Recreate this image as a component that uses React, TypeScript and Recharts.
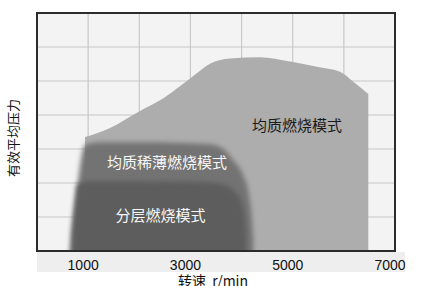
import {
  ComposedChart,
  Area,
  XAxis,
  YAxis,
  CartesianGrid,
  ReferenceArea,
  ReferenceDot,
} from "recharts";

const RPM_TICKS = [0, 1000, 2000, 3000, 4000, 5000, 6000, 7000];
const RPM_LABELS = [1000, 3000, 5000, 7000];
const BMEP_TICKS = [0, 1, 2, 3, 4, 5, 6, 7];

// 均质燃烧模式 outline
const homoRpm = [939, 1427, 2014, 2480, 2800, 3100, 3400, 3770, 4360, 4950, 5470, 5925, 6185, 6478];
const homoBmep = [3.35, 3.62, 4.12, 4.5, 4.85, 5.2, 5.52, 5.66, 5.7, 5.57, 5.42, 5.27, 4.98, 4.62];

// 均质稀薄燃烧模式 outline
const leanRpm = [645, 704, 782, 860, 939, 1232, 2000, 3324, 3617, 3832, 4028, 4145, 4204, 4230];
const leanBmep = [0, 0.91, 1.79, 2.68, 3.12, 3.2, 3.2, 3.15, 3.03, 2.68, 2.24, 1.65, 0.91, 0.3];

// 分层燃烧模式 outline
const stratRpm = [690, 740, 790, 1000, 2000, 3300, 3650, 3900, 4030, 4080, 4095];
const stratBmep = [0.5, 1.3, 1.95, 2.05, 2.05, 2.03, 1.95, 1.7, 1.3, 0.7, 0.2];

const ZONE_NAMES = ["均质燃烧模式", "均质稀薄燃烧模式", "分层燃烧模式"];
const ZONE_LABEL_RPM = [5084, 2542, 2415];
const ZONE_LABEL_BMEP = [3.68, 2.59, 1.03];

const toRows = (rpm: number[], bmep: number[]) => rpm.map((r, i) => ({ rpm: r, p: bmep[i] }));

const homoData = toRows(homoRpm, homoBmep);
const leanData = toRows(leanRpm, leanBmep);
const stratData = toRows(stratRpm, stratBmep);

const CJK = '"Noto Sans CJK SC", "Noto Sans", sans-serif';

export default function App() {
  return (
    <div style={{ position: "fixed", left: 0, top: 0, width: 436, height: 286, background: "#fff", overflow: "hidden" }}>
      <div style={{ position: "absolute", left: 37, top: 252, width: 368, height: 20, background: "#eeeeee" }} />
      <div
        style={{
          position: "absolute",
          left: -37,
          top: 130,
          width: 100,
          height: 16,
          lineHeight: "16px",
          textAlign: "center",
          fontFamily: CJK,
          fontSize: 13,
          color: "#111",
          transform: "rotate(-90deg)",
        }}
      >
        有效平均压力
      </div>
      <div
        style={{
          position: "absolute",
          left: 153,
          top: 272,
          width: 120,
          lineHeight: "16px",
          textAlign: "center",
          fontFamily: CJK,
          fontSize: 14,
          color: "#111",
          whiteSpace: "pre",
        }}
      >
        {"转速  r/min"}
      </div>
      <div style={{ position: "absolute", left: 0, top: 0 }}>
        <ComposedChart width={436} height={286} margin={{ top: 13, right: 41, left: 37, bottom: 15 }}>
          <defs>
            <filter id="soft" x="-20%" y="-20%" width="140%" height="140%">
              <feGaussianBlur stdDeviation="2.5" />
            </filter>
          </defs>
          <CartesianGrid
            stroke="#c8c8c8"
            strokeWidth={1.2}
            fill="#f3f3f3"
            fillOpacity={1}
            verticalValues={RPM_TICKS}
            horizontalValues={BMEP_TICKS}
          />
          <XAxis
            type="number"
            dataKey="rpm"
            domain={[0, 7000]}
            ticks={RPM_TICKS}
            interval={0}
            tickFormatter={(v: number) => (RPM_LABELS.includes(v) ? String(v) : "")}
            tickLine={false}
            axisLine={false}
            tickSize={0}
            tickMargin={9}
            height={20}
            tick={{ fontSize: 14, fill: "#111", fontFamily: '"Liberation Sans", Arial, sans-serif', dx: -5 }}
            allowDataOverflow
          />
          <YAxis type="number" domain={[0, 7]} ticks={BMEP_TICKS} hide allowDataOverflow />
          <Area
            data={homoData}
            dataKey="p"
            type="monotone"
            fill="#adadad"
            fillOpacity={1}
            stroke="none"
            baseValue={-1}
            isAnimationActive={false}
          />
          <Area
            data={leanData}
            dataKey="p"
            type="monotone"
            fill="#737373"
            fillOpacity={1}
            stroke="none"
            baseValue={-1}
            filter="url(#soft)"
            isAnimationActive={false}
          />
          <Area
            data={stratData}
            dataKey="p"
            type="monotone"
            fill="#5d5d5d"
            fillOpacity={1}
            stroke="none"
            baseValue={-1}
            filter="url(#soft)"
            isAnimationActive={false}
          />
          <ReferenceArea
            x1={0}
            x2={7000}
            y1={0}
            y2={7}
            fill="none"
            stroke="#2b2b2b"
            strokeWidth={2}
            ifOverflow="visible"
          />
          {ZONE_NAMES.map((name, i) => (
            <ReferenceDot
              key={name}
              x={ZONE_LABEL_RPM[i]}
              y={ZONE_LABEL_BMEP[i]}
              r={0}
              fill="none"
              stroke="none"
              ifOverflow="visible"
              label={{
                value: name,
                position: "center",
                fontSize: 15,
                fontFamily: CJK,
                fill: i === 0 ? "#1a1a1a" : "#f7f7f7",
              }}
            />
          ))}
        </ComposedChart>
      </div>
    </div>
  );
}
